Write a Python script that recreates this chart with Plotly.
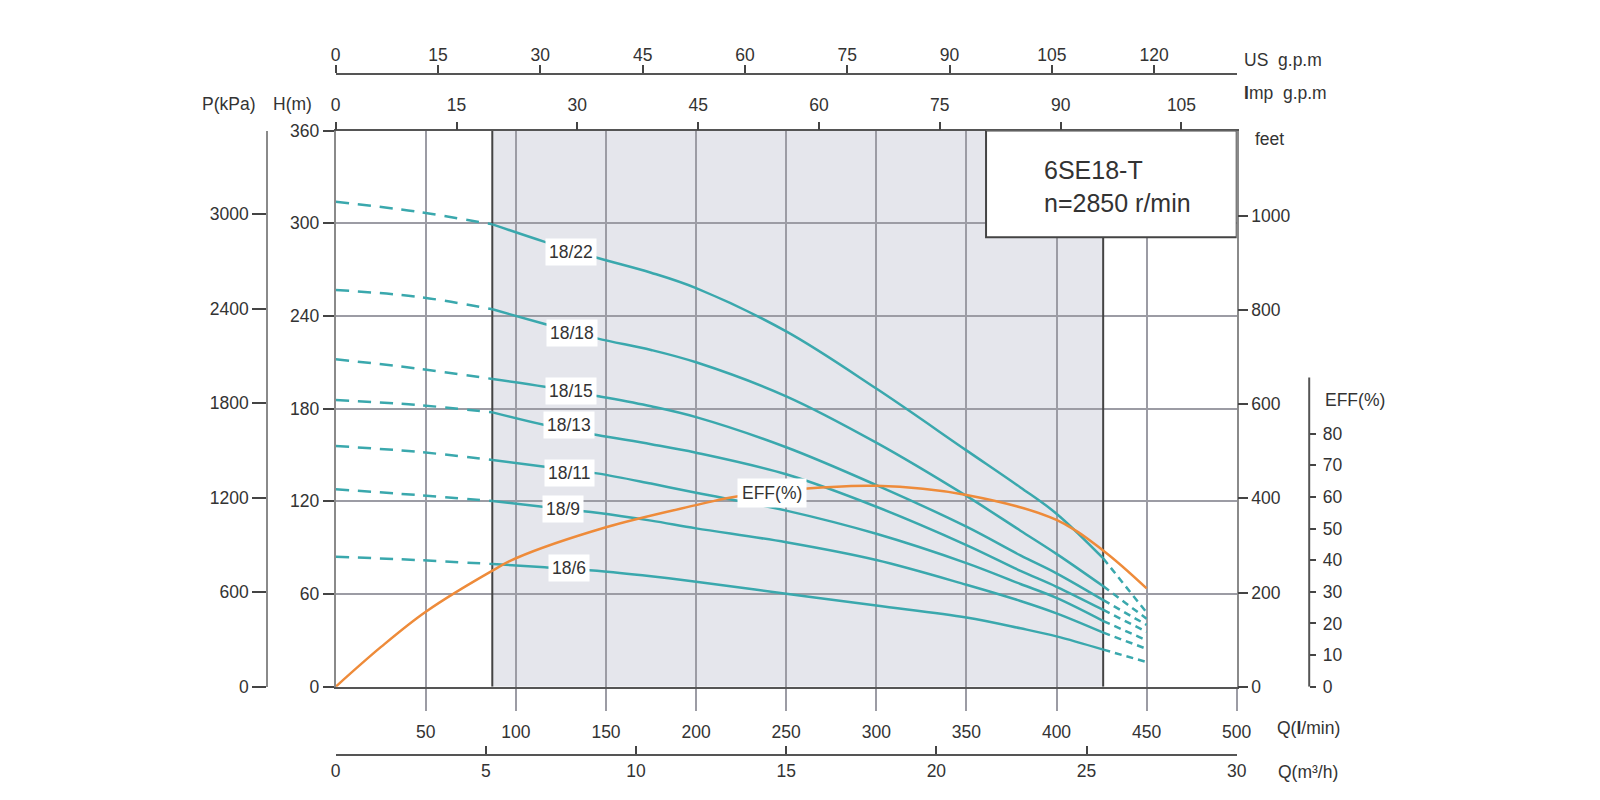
import plotly.graph_objects as go

# ---------------- data ----------------
Q = [0, 45, 87, 116, 145, 175, 200, 250, 300, 350, 380, 400, 426, 450]          # l/min
Q_SOLID_START = 87
Q_SOLID_END = 426
H_18_22 = [314, 307.5, 299.3, 288, 277.7, 268, 258, 230, 193, 153, 129, 112, 83, 48]
H_18_18 = [256.8, 252.5, 244.3, 234.8, 225.5, 218, 210, 188, 158, 123.5, 101, 86, 65, 44]
H_18_15 = [212, 206, 199.2, 194.2, 188.2, 181.5, 174.5, 155, 130.5, 103.6, 85, 73.4, 56, 40]
H_18_13 = [185.6, 182.4, 177.6, 169.4, 162.9, 157, 151.5, 137.5, 116.5, 91.7, 75, 64.7, 49.7, 35.5]
H_18_11 = [155.8, 152.1, 146.8, 142.4, 138.1, 131.5, 125.5, 114, 99, 80, 66.5, 57.5, 42.5, 30]
H_18_9 = [127.8, 124.1, 120.2, 116.3, 112.6, 107.5, 102.5, 93.5, 82, 66, 55.5, 47.5, 35, 24.5]
H_18_6 = [84.2, 82, 79.4, 77.4, 75.1, 71.5, 68, 60.2, 52.5, 44.8, 37.8, 32.6, 24, 16]
MODELS = ["18/22", "18/18", "18/15", "18/13", "18/11", "18/9", "18/6"]
HEADS = [H_18_22, H_18_18, H_18_15, H_18_13, H_18_11, H_18_9, H_18_6]
LABEL_Q = [130.4, 131.3, 130.4, 129.5, 129.5, 126.3, 129.5]
LABEL_H = [281.6, 228.8, 191.6, 169.4, 138.1, 115, 76.6]

Q_EFF = [0, 25, 50, 87, 100, 150, 200, 220, 250, 300, 350, 400, 426, 450]
EFF = [0, 12.5, 23.7, 36.7, 40.6, 50.4, 57.4, 59.9, 62.1, 63.5, 60.6, 52.7, 43, 31.1]
EFF_LABEL = (242, 125.2)

Q_TICKS = [50, 100, 150, 200, 250, 300, 350, 400, 450, 500]
H_TICKS = [0, 60, 120, 180, 240, 300, 360]
P_TICKS = [0, 600, 1200, 1800, 2400, 3000]
FT_TICKS = [0, 200, 400, 600, 800, 1000]
EFF_TICKS = [0, 10, 20, 30, 40, 50, 60, 70, 80]
USGPM_TICKS = [0, 15, 30, 45, 60, 75, 90, 105, 120]
IMPGPM_TICKS = [0, 15, 30, 45, 60, 75, 90, 105]
M3H_TICKS = [0, 5, 10, 15, 20, 25, 30]

US_GPM = 3.785      # l/min per US gpm
IMP_GPM = 4.47      # l/min per Imp gpm (as drawn)
M3H = 1000 / 60     # l/min per m3/h
KPA_PER_M = 9.807
M_PER_FT = 0.3048
H_PER_EFF = 2.048   # head-units per efficiency percent on the drawn scale

Q_MAX = 500
H_MAX = 360
SHADE = (86.9, 425.9)
BOX = (360.9, 500, 290.9, 360)

# ---------------- layout helpers ----------------
ORIGIN = 8                       # default page body margin
ML, MR, MT, MB = 192, 200, 32, 30
PW, PH = 1200, 730
W = ML + PW + MR
HGT = MT + PH + MB


def px(x):
    return (x - ORIGIN - ML) / PW


def py(y):
    return (ORIGIN + MT + PH - y) / PH


FONT = "Liberation Sans, Arial, sans-serif"
TXT = "#333333"
TEAL = "#3aa8ad"
ORANGE = "#ee8b3a"
GRID = "#9c9ca4"
DARK = "#444444"
TF = dict(family=FONT, size=17.5, color=TXT)

fig = go.Figure()

# pump curves
for name, h in zip(MODELS, HEADS):
    dq1 = [q for q in Q if q <= Q_SOLID_START]
    dh1 = [v for q, v in zip(Q, h) if q <= Q_SOLID_START]
    sq = [q for q in Q if Q_SOLID_START <= q <= Q_SOLID_END]
    sh = [v for q, v in zip(Q, h) if Q_SOLID_START <= q <= Q_SOLID_END]
    dq2 = [q for q in Q if q >= Q_SOLID_END]
    dh2 = [v for q, v in zip(Q, h) if q >= Q_SOLID_END]
    for xs, ys, dash in ((dq1, dh1, "13px,9px"), (sq, sh, "solid"), (dq2, dh2, "7px,5px")):
        fig.add_trace(go.Scatter(x=xs, y=ys, mode="lines", xaxis="x", yaxis="y",
                                 line=dict(color=TEAL, width=2.5, dash=dash, shape="spline", smoothing=1.0),
                                 showlegend=False, hoverinfo="skip", name=name))

# efficiency curve
fig.add_trace(go.Scatter(x=Q_EFF, y=EFF, mode="lines", xaxis="x", yaxis="y4",
                         line=dict(color=ORANGE, width=2.5, shape="spline", smoothing=1.0),
                         showlegend=False, hoverinfo="skip", name="EFF"))

# dummy traces to activate auxiliary axes
for xa, ya in (("x2", "y"), ("x3", "y"), ("x4", "y"), ("x", "y2"), ("x", "y3")):
    fig.add_trace(go.Scatter(x=[None], y=[None], xaxis=xa, yaxis=ya, showlegend=False,
                             hoverinfo="skip", mode="lines"))

xdom = [px(335.7), px(1236.7)]
ydom = [py(686.7), py(130.6)]

fig.update_layout(
    width=W, height=HGT,
    margin=dict(l=ML, r=MR, t=MT, b=MB, pad=0, autoexpand=False),
    paper_bgcolor="white", plot_bgcolor="white",
    font=TF, showlegend=False,
    xaxis=dict(domain=xdom, range=[0, Q_MAX], tickvals=Q_TICKS, ticks="outside", ticklen=22,
               tickwidth=1.5, tickcolor=GRID, showgrid=True, gridcolor=GRID, gridwidth=1.5,
               showline=True, linecolor="#555555", linewidth=2, mirror=True, zeroline=False,
               ticklabelstandoff=6, tickfont=TF, fixedrange=True),
    yaxis=dict(domain=ydom, range=[0, H_MAX], tickvals=H_TICKS, ticks="outside", ticklen=11,
               tickwidth=1.5, tickcolor=DARK, showgrid=True, gridcolor=GRID, gridwidth=1.5,
               showline=True, linecolor="#8a8a8a", linewidth=2, mirror=True, zeroline=False,
               tickfont=TF, fixedrange=True),
    xaxis2=dict(overlaying="x", anchor="free", position=py(73.5), side="top", range=[0, Q_MAX],
                tickvals=[v * US_GPM for v in USGPM_TICKS], ticktext=[str(v) for v in USGPM_TICKS],
                ticks="outside", ticklen=8, tickwidth=1.5, tickcolor=DARK, showline=True,
                linecolor="#555555", linewidth=2, showgrid=False, zeroline=False, tickfont=TF,
                ticklabelstandoff=-3),
    xaxis3=dict(overlaying="x", anchor="y", side="top", range=[0, Q_MAX],
                tickvals=[v * IMP_GPM for v in IMPGPM_TICKS], ticktext=[str(v) for v in IMPGPM_TICKS],
                ticks="outside", ticklen=8, tickwidth=1.5, tickcolor=DARK, showline=False,
                showgrid=False, zeroline=False, tickfont=TF, ticklabelstandoff=4),
    xaxis4=dict(overlaying="x", anchor="free", position=py(755), side="bottom", range=[0, Q_MAX],
                tickvals=[v * M3H for v in M3H_TICKS], ticktext=[str(v) for v in M3H_TICKS],
                ticks="inside", ticklen=8, tickwidth=1.5, tickcolor=DARK, showline=True,
                linecolor="#555555", linewidth=2, showgrid=False, zeroline=False, tickfont=TF),
    yaxis2=dict(overlaying="y", anchor="free", position=px(267.3), side="left",
                range=[0, H_MAX * KPA_PER_M], tickvals=P_TICKS, ticks="outside", ticklen=14,
                tickwidth=1.5, tickcolor=DARK, showline=True, linecolor="#8a8a8a", linewidth=2,
                showgrid=False, zeroline=False, tickfont=TF),
    yaxis3=dict(overlaying="y", anchor="x", side="right", range=[0, H_MAX / M_PER_FT],
                tickvals=FT_TICKS, ticks="outside", ticklen=10, tickwidth=1.5, tickcolor=DARK,
                showline=False, showgrid=False, zeroline=False, tickfont=TF),
    yaxis4=dict(overlaying="y", anchor="free", position=px(1309.2), side="right",
                range=[0, H_MAX / H_PER_EFF], tickvals=EFF_TICKS, ticks="outside", ticklen=6,
                tickwidth=1.5, tickcolor=DARK, showline=False, showgrid=False, zeroline=False,
                tickfont=TF, ticklabelstandoff=3),
)

shapes = [
    dict(type="rect", xref="x", yref="y", x0=SHADE[0], x1=SHADE[1], y0=0, y1=H_MAX,
         fillcolor="#e5e6ec", line=dict(width=0), layer="below"),
    dict(type="line", xref="x", yref="y", x0=SHADE[0], x1=SHADE[0], y0=0, y1=H_MAX,
         line=dict(color=DARK, width=2), layer="between"),
    dict(type="line", xref="x", yref="y", x0=SHADE[1], x1=SHADE[1], y0=0, y1=H_MAX,
         line=dict(color=DARK, width=2), layer="between"),
    dict(type="rect", xref="x", yref="y", x0=BOX[0], x1=BOX[1], y0=BOX[2], y1=BOX[3],
         fillcolor="white", line=dict(color=DARK, width=2), layer="above"),
    dict(type="line", xref="paper", yref="y4", x0=px(1309.2), x1=px(1309.2), y0=0, y1=97.7,
         line=dict(color="#555555", width=2), layer="above"),
]
fig.update_layout(shapes=shapes)

ann = []
for name, xq, yh in zip(MODELS, LABEL_Q, LABEL_H):
    ann.append(dict(x=xq, y=yh, xref="x", yref="y", text=name, showarrow=False,
                    bgcolor="white", borderpad=3, font=TF))
ann.append(dict(x=EFF_LABEL[0], y=EFF_LABEL[1], xref="x", yref="y", text="EFF(%)",
                showarrow=False, bgcolor="white", borderpad=4, font=TF))
ann.append(dict(x=392, y=323.7, xref="x", yref="y", text="6SE18-T<br>n=2850 r/min",
                showarrow=False, xanchor="left", yanchor="middle", align="left",
                font=dict(family=FONT, size=25, color=TXT)))


def label(text, x, y, xanchor="left"):
    ann.append(dict(x=px(x), y=py(y), xref="paper", yref="paper", text=text, showarrow=False,
                    xanchor=xanchor, yanchor="middle", font=TF))


label("P(kPa)", 228, 104, "center")
label("H(m)", 292, 104, "center")
label("US  g.p.m", 1242, 60)
label("<b>I</b>mp  g.p.m", 1242, 93)
label("feet", 1253, 139)
label("EFF(%)", 1323, 400)
label("Q(<b>l</b>/min)", 1275, 727.6)
label("Q(m³/h)", 1276, 772.5)

fig.update_layout(annotations=ann)

fig.write_html("out.html")
